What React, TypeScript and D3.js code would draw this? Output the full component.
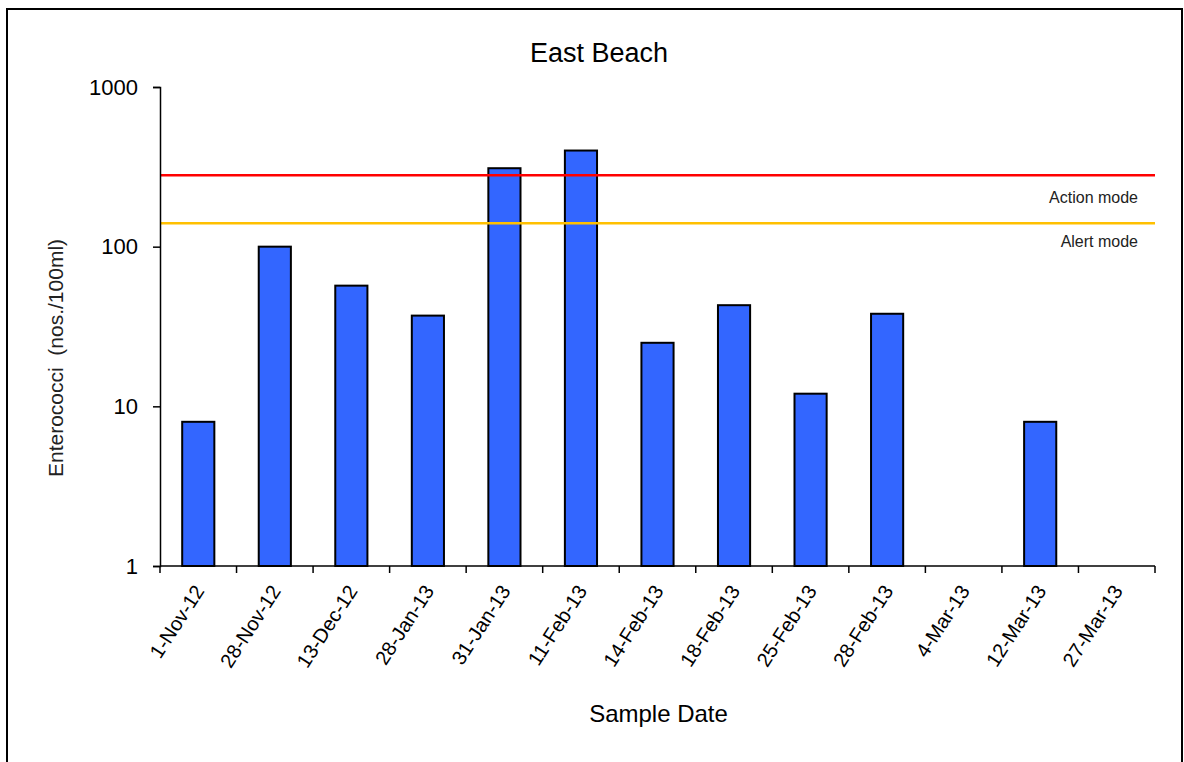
import React, { useEffect, useRef } from 'react';
import * as d3 from 'd3';

const sampleDates = [
  '1-Nov-12', '28-Nov-12', '13-Dec-12', '28-Jan-13', '31-Jan-13', '11-Feb-13', '14-Feb-13',
  '18-Feb-13', '25-Feb-13', '28-Feb-13', '4-Mar-13', '12-Mar-13', '27-Mar-13',
];
// null = no bar shown (at or below 1 on the log axis)
const enterococci: (number | null)[] = [8, 100, 57, 37, 310, 400, 25, 43, 12, 38, null, 8, null];
const yTicks = [1, 10, 100, 1000];
const actionLevel = 280;
const alertLevel = 140;

const FONT = '"Liberation Sans", Arial, sans-serif';

const App: React.FC = () => {
  const ref = useRef<SVGSVGElement | null>(null);

  useEffect(() => {
    const width = 1184;
    const height = 762;
    const margin = { top: 87, right: 29, bottom: 196, left: 160 };
    const innerW = width - margin.left - margin.right;
    const innerH = height - margin.top - margin.bottom;

    const root = d3.select(ref.current);
    root.selectAll('*').remove();
    root.attr('width', width).attr('height', height);

    root.append('rect').attr('width', width).attr('height', height).attr('fill', '#fff');

    // outer frame (runs off the bottom of the picture)
    root.append('rect')
      .attr('x', 7).attr('y', 9)
      .attr('width', 1175).attr('height', 800)
      .attr('fill', 'none').attr('stroke', '#000').attr('stroke-width', 2);

    root.append('text')
      .attr('x', 599).attr('y', 62)
      .attr('text-anchor', 'middle')
      .attr('font-family', FONT).attr('font-size', 27)
      .text('East Beach');

    const svg = root.append('g').attr('transform', `translate(${margin.left},${margin.top})`);

    const x = d3.scaleBand<string>().domain(sampleDates).range([0, innerW]).padding(0);
    const y = d3.scaleLog().domain([1, 1000]).range([innerH, 0]);

    const barW = x.bandwidth() * 0.42;

    // Bars
    const data = sampleDates.map((d, i) => ({ date: d, value: enterococci[i] }));
    svg.selectAll('.bar')
      .data(data.filter((d) => d.value !== null))
      .enter()
      .append('rect')
      .attr('class', 'bar')
      .attr('x', (d) => x(d.date)! + (x.bandwidth() - barW) / 2)
      .attr('y', (d) => y(d.value as number))
      .attr('width', barW)
      .attr('height', (d) => innerH - y(d.value as number))
      .attr('fill', '#3366FF')
      .attr('stroke', '#000')
      .attr('stroke-width', 2);

    // Threshold lines
    svg.append('line')
      .attr('x1', 0).attr('x2', innerW)
      .attr('y1', y(actionLevel)).attr('y2', y(actionLevel))
      .attr('stroke', '#FF0000').attr('stroke-width', 2.5);
    svg.append('line')
      .attr('x1', 0).attr('x2', innerW)
      .attr('y1', y(alertLevel)).attr('y2', y(alertLevel))
      .attr('stroke', '#FFC000').attr('stroke-width', 2.5);

    svg.append('text')
      .attr('x', innerW - 17).attr('y', y(actionLevel) + 28)
      .attr('text-anchor', 'end')
      .attr('font-family', FONT).attr('font-size', 16).attr('fill', '#222')
      .text('Action mode');
    svg.append('text')
      .attr('x', innerW - 17).attr('y', y(alertLevel) + 24)
      .attr('text-anchor', 'end')
      .attr('font-family', FONT).attr('font-size', 16).attr('fill', '#222')
      .text('Alert mode');

    // Axes
    const yAxis = d3.axisLeft(y)
      .tickValues(yTicks)
      .tickFormat((d) => String(d))
      .tickSize(7)
      .tickPadding(15);
    const gy = svg.append('g').call(yAxis);
    gy.select('.domain').attr('stroke', '#000').attr('stroke-width', 1.5);
    gy.selectAll('.tick line').attr('stroke', '#000').attr('stroke-width', 1.5);
    gy.selectAll('.tick text')
      .attr('font-family', FONT).attr('font-size', 22).attr('fill', '#000');

    const gx = svg.append('g').attr('transform', `translate(0,${innerH})`);
    gx.append('line')
      .attr('x1', 0).attr('x2', innerW)
      .attr('stroke', '#000').attr('stroke-width', 1.5);
    gx.selectAll('.xtick')
      .data([...sampleDates.map((d) => x(d)!), innerW])
      .enter()
      .append('line')
      .attr('x1', (d) => d).attr('x2', (d) => d)
      .attr('y1', 0).attr('y2', 7)
      .attr('stroke', '#000').attr('stroke-width', 1.5);
    gx.selectAll('.xlabel')
      .data(sampleDates)
      .enter()
      .append('text')
      .attr('transform', (d) => `translate(${x(d)! + x.bandwidth() / 2 + 1},21) rotate(-57)`)
      .attr('text-anchor', 'end')
      .attr('dy', '0.35em')
      .attr('font-family', FONT).attr('font-size', 20).attr('fill', '#000')
      .text((d) => d);

    // Axis titles
    svg.append('text')
      .attr('x', innerW / 2 + 1).attr('y', 722 - margin.top)
      .attr('text-anchor', 'middle')
      .attr('font-family', FONT).attr('font-size', 24)
      .text('Sample Date');
    root.append('text')
      .attr('transform', 'translate(63,358) rotate(-90)')
      .attr('text-anchor', 'middle')
      .attr('font-family', FONT).attr('font-size', 21).attr('fill', '#222')
      .attr('xml:space', 'preserve')
      .style('white-space', 'pre')
      .text('Enterococci  (nos./100ml)');
  }, []);

  return <svg ref={ref} style={{ position: 'absolute', left: 0, top: 0 }}></svg>;
};

export default App;
